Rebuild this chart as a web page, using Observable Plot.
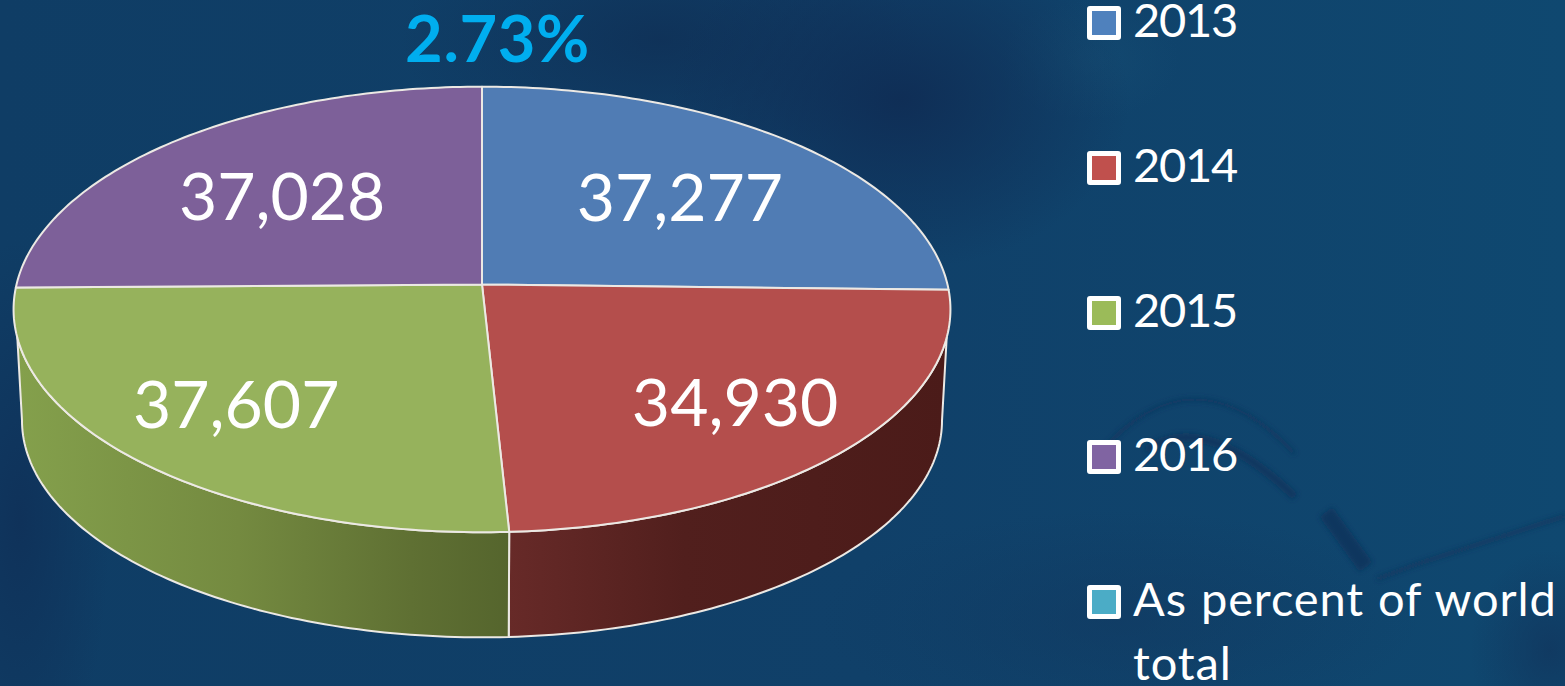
<!DOCTYPE html>
<html>
<head>
<meta charset="utf-8">
<script src="https://cdn.jsdelivr.net/npm/d3@7"></script>
<script src="https://cdn.jsdelivr.net/npm/@observablehq/plot@0.6"></script>
<style>
  html, body { margin: 0; padding: 0; width: 1565px; height: 686px; overflow: hidden; }
  body {
    position: relative;
    font-family: Lato, "Open Sans", sans-serif;
    background:
      radial-gradient(ellipse 230px 170px at 900px 100px, rgba(15,44,84,.9), rgba(15,44,84,0)),
      radial-gradient(ellipse 260px 130px at 660px 40px, rgba(15,46,84,.75), rgba(15,46,84,0)),
      radial-gradient(ellipse 90px 60px at 1090px 60px, rgba(22,78,116,.5), rgba(22,78,116,0)),
      radial-gradient(ellipse 90px 280px at 20px 520px, rgba(15,48,88,.85), rgba(15,48,88,0)),
      radial-gradient(ellipse 300px 110px at 1120px 620px, rgba(17,56,96,.55), rgba(17,56,96,0)),
      radial-gradient(ellipse 80px 100px at 1550px 650px, rgba(17,52,92,.7), rgba(17,52,92,0)),
      linear-gradient(90deg, #0f3d65 0%, #104069 55%, #0f4870 100%);
  }
  #backdrop { position: absolute; left: 0; top: 0; width: 1565px; height: 686px; }
  #chart { position: absolute; left: 0; top: 0; }
  #legend { position: absolute; left: 1087px; top: 0; width: 478px; color: #fff; }
  .row { position: absolute; left: 0; display: flex; align-items: flex-start; }
  .sw { box-sizing: border-box; width: 34px; height: 34px; border: 5px solid #fff; border-radius: 3px; flex: none; }
  .lb { margin-left: 12px; font-size: 47px; line-height: 64px; margin-top: -19px; width: 432px; }
</style>
</head>
<body>
<div id="backdrop"></div>
<div id="chart"></div>
<div id="legend"></div>
<script>
const years = ["2013", "2014", "2015", "2016"];
const values = [37277, 34930, 37607, 37028];
const valueLabels = ["37,277", "34,930", "37,607", "37,028"];
const legendLabels = ["2013", "2014", "2015", "2016", "As percent of world total"];
const headline = "2.73%";

const topColors = ["#507cb4", "#b44e4c", "#96b25c", "#7d6099"];
const legendColors = ["#4f81bd", "#c0504d", "#9bbb59", "#8064a2", "#4bacc6"];
const labelNudge = [[7, 3], [43, 24], [-45, 21], [-10, 3]];

// Thin shadowed shapes of the photographic backdrop.
const backdrop = `<svg xmlns="http://www.w3.org/2000/svg" width="1565" height="686">
<defs><filter id="b" x="-30%" y="-30%" width="160%" height="160%"><feGaussianBlur stdDeviation="2.5"/></filter></defs>
<g filter="url(#b)" fill="none" stroke="#10345c">
<path d="M1099 454Q1193 345 1295 454" stroke-width="4" opacity=".7"/>
<path d="M1146 450Q1205 410 1295 497" stroke-width="8" opacity=".8"/>
<path d="M1326 512L1366 567" stroke-width="16" opacity=".9"/>
<path d="M1377 579L1417 564 1565 516" stroke-width="5" opacity=".6"/>
</g>
</svg>`;
document.getElementById("backdrop").style.background =
  `url("data:image/svg+xml,${encodeURIComponent(backdrop)}")`;

// Tilted-disc projection: u is right, v is toward the viewer on the unit circle.
const tilt = 0.112;
const project = (deg, r = 1) => {
  const a = deg * Math.PI / 180;
  const u = r * Math.sin(a), v = -r * Math.cos(a), w = 1 - tilt * v;
  return {x: u / w, y: v / w};
};
const lower = (p) => ({x: 0.982 * p.x, y: 0.508 + 0.973 * p.y});

const total = d3.sum(values);
let run = 0;
const slices = values.map((value, i) => {
  const start = run / total * 360;
  run += value;
  return {year: years[i], label: valueLabels[i], start, end: run / total * 360, i};
});

const arc = (a, b) => {
  const n = Math.max(2, Math.ceil(Math.abs(b - a)));
  return d3.range(n + 1).map((k) => project(a + (b - a) * k / n));
};

const tops = slices.flatMap((s) => {
  const c = project(0, 0);
  return [c, ...arc(s.start, s.end), c].map((p) => ({...p, year: s.year}));
});

// The upper rim starts at the disc's tangent; the lower rim runs round to its own widest point.
const rimTop = 103.6, rimBottom = 96.4;
const wall = (from, to, lowFrom) => {
  const pts = [...arc(from, to), ...arc(to, lowFrom).map(lower)];
  return [...pts, pts[0]];
};
const wallRed = wall(rimTop, slices[1].end, rimBottom);
const wallGreen = wall(360 - rimTop, slices[2].start, 360 - rimBottom);

const defs = () => {
  const svg = d3.create("svg:g");
  const d = svg.append("defs");
  const grad = (id, stops) => {
    const g = d.append("linearGradient").attr("id", id).attr("x1", 0).attr("x2", 1).attr("y1", 0).attr("y2", 0);
    stops.forEach(([o, c]) => g.append("stop").attr("offset", o).attr("stop-color", c));
  };
  grad("wallRed", [[0, "#672a28"], [0.4, "#511f1d"], [1, "#4b1b19"]]);
  grad("wallGreen", [[0, "#84a04c"], [0.45, "#748a40"], [0.8, "#5f7033"], [1, "#55652d"]]);
  return svg.node();
};

const edgeStyle = {stroke: "#ece9e4", strokeWidth: 2, strokeLinejoin: "round", curve: "linear"};

const chart = Plot.plot({
  width: 1565,
  height: 686,
  margin: 0,
  style: {background: "transparent", overflow: "visible"},
  x: {domain: [-1, 1], range: [16, 947], axis: null},
  y: {domain: [-1, 1], range: [64, 504], axis: null},
  color: {domain: years, range: topColors},
  marks: [
    defs,
    Plot.line(wallRed, {x: "x", y: "y", fill: "url(#wallRed)", ...edgeStyle}),
    Plot.line(wallGreen, {x: "x", y: "y", fill: "url(#wallGreen)", ...edgeStyle}),
    Plot.line(tops, {x: "x", y: "y", z: "year", fill: "year", ...edgeStyle}),
    ...slices.map((s, i) => {
      const p = project((s.start + s.end) / 2, 0.6);
      return Plot.text([s], {
        x: () => p.x, y: () => p.y, text: "label",
        dx: labelNudge[i][0], dy: labelNudge[i][1],
        fill: "#fff", fontSize: 66, fontFamily: "Lato, sans-serif", lineAnchor: "middle"
      });
    }),
    Plot.text([headline], {
      frameAnchor: "top-left", dx: 497, dy: 41, text: (d) => d,
      textAnchor: "middle", lineAnchor: "middle",
      fill: "#00aeef", fontSize: 65, fontWeight: 700, fontFamily: "Lato, sans-serif"
    })
  ]
});
chart.querySelectorAll("text").forEach((t) => {
  if (t.textContent === headline) t.style.letterSpacing = "0.6px";
});
document.getElementById("chart").appendChild(chart);

const legend = d3.select("#legend");
legendLabels.forEach((label, i) => {
  const row = legend.append("div").attr("class", "row").style("top", `${6 + i * 144.75}px`);
  row.append("div").attr("class", "sw").style("background", legendColors[i]);
  row.append("div").attr("class", "lb")
    .style("letter-spacing", i < 4 ? "-1.3px" : "0.9px")
    .style("word-spacing", i < 4 ? "0" : "1px")
    .text(label);
});
</script>
</body>
</html>
